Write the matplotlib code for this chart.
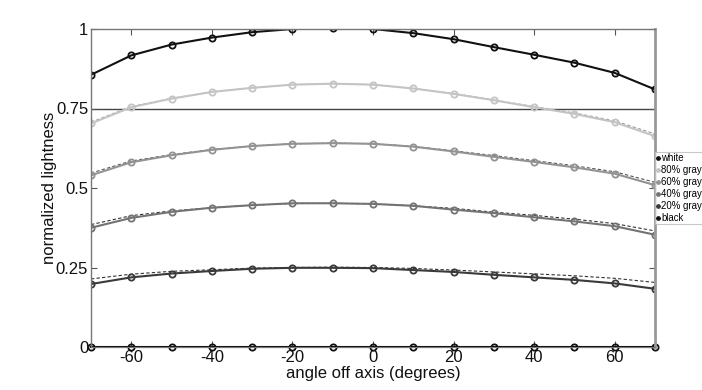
import matplotlib
matplotlib.use("Agg")
import matplotlib.pyplot as plt
from matplotlib.lines import Line2D

plt.rcParams['font.family'] = ['Liberation Sans', 'DejaVu Sans']
plt.rcParams['axes.unicode_minus'] = False

angles = [-70, -60, -50, -40, -30, -20, -10, 0, 10, 20, 30, 40, 50, 60, 70]

white = [0.856, 0.917, 0.951, 0.973, 0.990, 1.000, 1.004, 1.000, 0.987, 0.968, 0.943, 0.919, 0.894, 0.862, 0.810]
gray80 = [0.703, 0.754, 0.781, 0.802, 0.815, 0.825, 0.828, 0.825, 0.813, 0.796, 0.776, 0.754, 0.733, 0.707, 0.663]
gray60 = [0.540, 0.581, 0.603, 0.620, 0.632, 0.639, 0.641, 0.639, 0.630, 0.615, 0.598, 0.582, 0.565, 0.545, 0.509]
gray40 = [0.375, 0.406, 0.425, 0.438, 0.446, 0.452, 0.452, 0.450, 0.444, 0.432, 0.421, 0.408, 0.395, 0.380, 0.353]
gray20 = [0.198, 0.219, 0.231, 0.239, 0.246, 0.249, 0.249, 0.248, 0.242, 0.236, 0.227, 0.219, 0.211, 0.200, 0.183]
black = [0.0] * 15

# dashed reference curves
ref80 = [0.707, 0.756, 0.782, 0.802, 0.815, 0.825, 0.828, 0.825, 0.813, 0.797, 0.777, 0.756, 0.736, 0.711, 0.670]
ref60 = [0.547, 0.585, 0.605, 0.621, 0.632, 0.639, 0.641, 0.639, 0.631, 0.617, 0.602, 0.586, 0.570, 0.551, 0.518]
ref40 = [0.385, 0.413, 0.428, 0.438, 0.446, 0.451, 0.452, 0.450, 0.444, 0.436, 0.424, 0.414, 0.402, 0.388, 0.365]
ref20 = [0.214, 0.229, 0.238, 0.243, 0.248, 0.250, 0.251, 0.250, 0.247, 0.242, 0.236, 0.230, 0.224, 0.216, 0.203]

series = [
    ("white", white, "#111111"),
    ("80% gray", gray80, "#c4c4c4"),
    ("60% gray", gray60, "#939393"),
    ("40% gray", gray40, "#737373"),
    ("20% gray", gray20, "#3a3a3a"),
    ("black", black, "#111111"),
]
refs = [(ref80, "#999999"), (ref60, "#555555"), (ref40, "#333333"), (ref20, "#333333")]

fig = plt.figure(figsize=(7.02, 3.90), dpi=100)
ax = fig.add_axes([91/702, 1-347/390, (655-91)/702, (347-29)/390])

ax.axhline(0.75, color="#444444", lw=1.0, zorder=1)

for r, c in refs:
    ax.plot(angles, r, color=c, lw=0.8, dashes=(3, 2), zorder=1.5)

handles = []
for name, vals, col in series:
    ax.plot(angles, vals, color=col, lw=1.5, marker='o', markersize=4.5,
            markerfacecolor='none', markeredgecolor=col, markeredgewidth=1.3, zorder=2,
            clip_on=(name != "black"))
    handles.append(Line2D([0], [0], color=col, lw=0.8, marker='o', markersize=2.4,
                          markerfacecolor=col, markeredgecolor=col))

ax.set_xlim(-70, 70)
ax.set_ylim(0, 1)
ax.set_xticks([-60, -40, -20, 0, 20, 40, 60])
ax.set_yticks([0, 0.25, 0.5, 0.75, 1])
ax.set_yticklabels(["0", "0.25", "0.5", "0.75", "1"])
ax.tick_params(direction='in', length=4, width=0.8, colors='#555555', labelcolor='#111111',
               labelsize=12, pad=2, top=True, right=True)

for s in ['left', 'top']:
    ax.spines[s].set_color('#777777')
    ax.spines[s].set_linewidth(1.0)
ax.spines['right'].set_color('#999999')
ax.spines['right'].set_linewidth(2.0)
ax.spines['bottom'].set_color('#777777')

ax.set_xlabel("angle off axis (degrees)", fontsize=12, labelpad=1, color='#111111')
ax.set_ylabel("normalized lightness", fontsize=12, color='#111111')
ax.yaxis.set_label_coords((57 - 91) / 564, 0.5)

leg = fig.legend(handles, [s[0] for s in series], loc='upper left',
                 bbox_to_anchor=(655/702, 1-152/390), fontsize=6.9,
                 handlelength=0.4, handletextpad=0.1, borderpad=0.15,
                 labelspacing=0.2, borderaxespad=0, frameon=True, fancybox=False)
leg.get_frame().set_edgecolor('#bbbbbb')
leg.get_frame().set_linewidth(0.8)

fig.savefig("out.png", dpi=100)
